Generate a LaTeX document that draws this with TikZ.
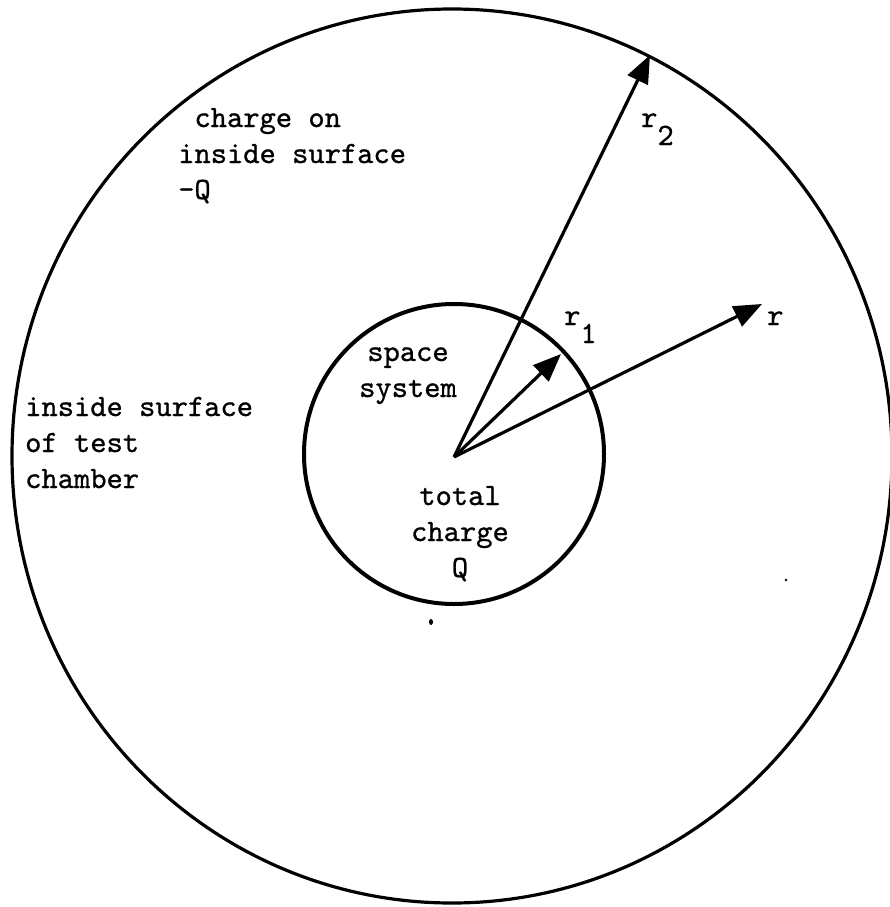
\documentclass[tikz,border=0pt]{standalone}
\usepackage{fontspec}
\setmonofont{lmmono10-regular.otf}[FakeBold=0.8]
\usetikzlibrary{arrows.meta}
\begin{document}
\begin{tikzpicture}[x=1pt,y=-1pt,line join=round,
  lbl/.style={font=\fontsize{31}{36}\selectfont\ttfamily,inner sep=0pt,anchor=base west,align=left},
  clbl/.style={font=\fontsize{31}{36}\selectfont\ttfamily,inner sep=0pt,anchor=base,align=center},
  vec/.style={line width=3.2pt,-{Triangle[length=28pt,width=22pt]}},
  speck/.style={fill=black,draw=none}]
\useasboundingbox (0,0) rectangle (890,907);
\path[clip] (0,0) rectangle (890,907);
% chamber wall and space system
\draw[line width=3.2pt] (452,456) ellipse [x radius=440, y radius=447];
\draw[line width=4pt] (454,454) circle [radius=150];
% vectors
\coordinate (o) at (454,457);
\coordinate (t2) at (650,55);
\coordinate (t1) at (561,354);
\coordinate (tr) at (762,304);
\draw[vec] (o) -- (t2);
\draw[vec] (o) -- (t1);
\draw[vec] (o) -- (tr);
% labels
\node[lbl] (lr2) at (641,127) {r\raisebox{-18pt}{2}};
\node[lbl] (lr1) at (564,325) {r\raisebox{-18pt}{1}};
\node[lbl] (lr) at (767,325) {r};
\node[lbl] (outer) at (178,199) {~charge on\\inside surface\\-Q};
\node[lbl] (wall) at (25,488) {inside surface\\of test\\chamber};
\node[clbl] (sys) at (408,397) {space\\system};
\node[clbl] (tot) at (460,577) {total\\charge\\Q};
% scan specks
\fill[speck] (431,622) ellipse [x radius=2, y radius=3];
\fill[speck] (786,580) circle [radius=1.3];
\end{tikzpicture}
\end{document}
